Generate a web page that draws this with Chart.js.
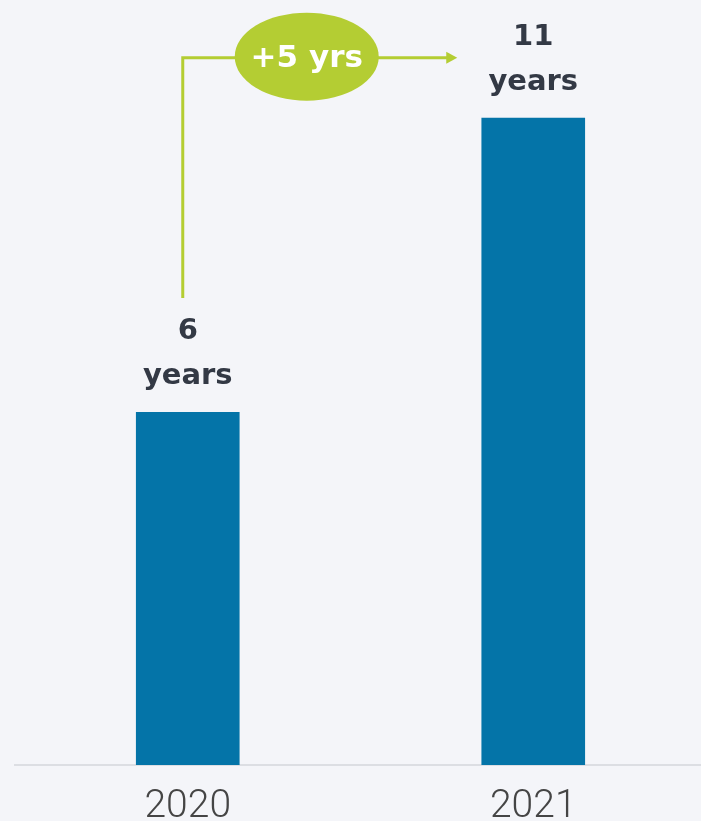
<!DOCTYPE html>
<html>
<head>
<meta charset="utf-8">
<script src="https://cdn.jsdelivr.net/npm/chart.js@4"></script>
<style>
  html, body { margin: 0; padding: 0; background: #f4f5f9; overflow: hidden; }
  #wrap { width: 706px; height: 821px; position: relative; }
</style>
</head>
<body>
<div id="wrap"><canvas id="chart"></canvas></div>
<script>
const years = ["2020", "2021"];
const tenure = [6, 11];
const unitLabel = "years";

const barBlue = '#0474a8';
const lime = '#b4cd33';
const labelColor = '#333945';

// number + unit stacked above each bar
const valueLabels = {
    id: 'valueLabels',
    afterDatasetsDraw(chart) {
        const ctx = chart.ctx;
        const bars = chart.getDatasetMeta(0).data;
        ctx.save();
        ctx.fillStyle = labelColor;
        ctx.font = 'bold 29px "DejaVu Sans"';
        ctx.textAlign = 'center';
        ctx.textBaseline = 'middle';
        bars.forEach((bar, i) => {
            ctx.fillText(String(tenure[i]), bar.x, bar.y - 80);
            ctx.fillText(unitLabel, bar.x, bar.y - 35);
        });
        ctx.restore();
    }
};

// elbow arrow from the first label to the second, difference in a bubble
const growthArrow = {
    id: 'growthArrow',
    afterDatasetsDraw(chart) {
        const ctx = chart.ctx;
        const [a, b] = chart.getDatasetMeta(0).data;
        const x0 = a.x - 5, y0 = a.y - 114;
        const yTop = b.y - 60;
        const tip = b.x - 76;
        ctx.save();
        ctx.strokeStyle = lime;
        ctx.fillStyle = lime;
        ctx.lineWidth = 3;
        ctx.beginPath();
        ctx.moveTo(x0, y0);
        ctx.lineTo(x0, yTop);
        ctx.lineTo(tip - 8, yTop);
        ctx.stroke();
        ctx.beginPath();
        ctx.moveTo(tip, yTop);
        ctx.lineTo(tip - 11, yTop - 6);
        ctx.lineTo(tip - 11, yTop + 6);
        ctx.closePath();
        ctx.fill();

        const cx = a.x + 119, cy = yTop - 1;
        ctx.beginPath();
        ctx.ellipse(cx, cy, 72, 44, 0, 0, Math.PI * 2);
        ctx.fill();
        ctx.fillStyle = '#ffffff';
        ctx.font = 'bold 31px "DejaVu Sans"';
        ctx.textAlign = 'center';
        ctx.textBaseline = 'middle';
        ctx.fillText('+' + (tenure[1] - tenure[0]) + ' yrs', cx, cy + 2);
        ctx.restore();
    }
};

new Chart(document.getElementById("chart"), {
    type: 'bar',
    data: {
        labels: years,
        datasets: [{
            data: tenure,
            backgroundColor: barBlue,
            barPercentage: 0.3,
            categoryPercentage: 1
        }]
    },
    options: {
        responsive: true,
        maintainAspectRatio: false,
        animation: false,
        layout: { padding: { left: 15, top: 0, right: 0, bottom: 0 } },
        plugins: {
            legend: { display: false },
            tooltip: { enabled: false }
        },
        scales: {
            y: { display: false, min: 0, max: 13 },
            x: {
                grid: { display: false },
                border: { display: true, color: '#dcdee3', width: 2 },
                ticks: {
                    color: '#454545',
                    padding: 11,
                    font: { family: 'Roboto', weight: 300, size: 39 }
                },
                afterFit(scale) { scale.height = 56; }
            }
        }
    },
    plugins: [valueLabels, growthArrow]
});
</script>
</body>
</html>
